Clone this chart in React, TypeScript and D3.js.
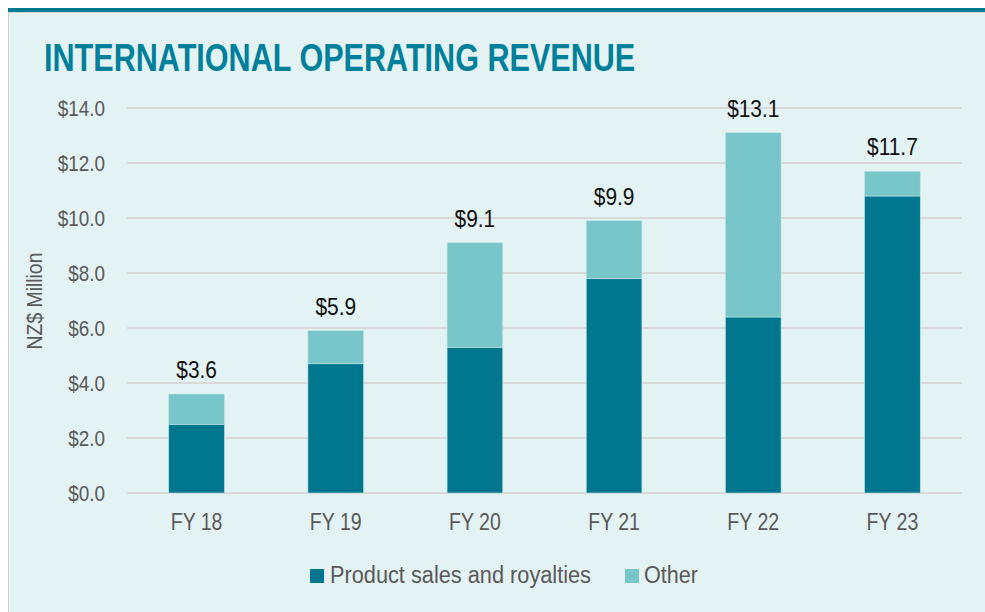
import React from "react";
import * as d3 from "d3";

const categories = ["FY 18", "FY 19", "FY 20", "FY 21", "FY 22", "FY 23"];
const productSales = [2.5, 4.7, 5.3, 7.8, 6.4, 10.8];
const other = [1.1, 1.2, 3.8, 2.1, 6.7, 0.9];
const totalLabels = ["$3.6", "$5.9", "$9.1", "$9.9", "$13.1", "$11.7"];
const yTicks = [0, 2, 4, 6, 8, 10, 12, 14];
const seriesNames = ["Product sales and royalties", "Other"];

const W = 985;
const H = 612;
const DARK = "#00778F";
const LIGHT = "#78C6C9";
const BG = "#E3F2F3";
const FONT = "'Liberation Sans', Arial, sans-serif";

function NText(props: {
  x: number;
  y: number;
  sx?: number;
  anchor?: string;
  size: number;
  fill: string;
  weight?: string;
  rotate?: number;
  children: React.ReactNode;
}) {
  const { x, y, sx = 0.85, anchor = "start", size, fill, weight, rotate = 0, children } = props;
  return (
    <text
      transform={`translate(${x},${y}) rotate(${rotate}) scale(${sx},1)`}
      textAnchor={anchor}
      fontSize={size}
      fill={fill}
      fontWeight={weight}
    >
      {children}
    </text>
  );
}

export default function App() {
  const x = d3.scaleBand<string>().domain(categories).range([127, 962]).paddingInner(0.6).paddingOuter(0.3);
  const y = d3.scaleLinear().domain([0, 14]).range([493, 108]);

  const rows = categories.map((c, i) => ({ cat: c, product: productSales[i], other: other[i] }));
  const stack = d3.stack<any>().keys(["product", "other"])(rows);
  const colors = [DARK, LIGHT];

  return (
    <svg width={W} height={H} style={{ position: "absolute", left: 0, top: 0 }} fontFamily={FONT}>
      <rect x={0} y={0} width={W} height={H} fill="#fff" />
      <rect x={8} y={9} width={W - 8} height={H - 9} fill={BG} />
      <line x1={8.5} y1={12} x2={8.5} y2={H} stroke="#CFCFCF" strokeWidth={1} />
      <rect x={8} y={8} width={W - 8} height={4} fill="#007A8F" />
      <line x1={8} y1={12.5} x2={W} y2={12.5} stroke="#D0D8D9" strokeWidth={1} />
      <NText x={44} y={71} sx={0.805} size={38} weight="bold" fill="#00809A">
        INTERNATIONAL OPERATING REVENUE
      </NText>
      {yTicks.map((t) => (
        <g key={t}>
          <line x1={127} x2={962} y1={y(t)} y2={y(t)} stroke="#D9D9D9" strokeWidth={2} />
          <NText x={105} y={y(t) + 8} anchor="end" size={22} sx={0.86} fill="#595959">
            {"$" + t.toFixed(1)}
          </NText>
        </g>
      ))}
      <NText x={42} y={301} rotate={-90} anchor="middle" size={22} sx={0.88} fill="#595959">
        NZ$ Million
      </NText>
      {stack.map((s, si) =>
        s.map((d, i) => (
          <rect
            key={si + "-" + i}
            x={x(categories[i])!}
            y={y(d[1])}
            width={x.bandwidth()}
            height={y(d[0]) - y(d[1])}
            fill={colors[si]}
            stroke="#BFE3E4"
            strokeWidth={0.6}
          />
        ))
      )}
      {categories.map((c, i) => (
        <NText
          key={c}
          x={x(c)! + x.bandwidth() / 2}
          y={y(productSales[i] + other[i]) - 16}
          anchor="middle"
          size={24}
          sx={0.87}
          fill="#111"
        >
          {totalLabels[i]}
        </NText>
      ))}
      {categories.map((c) => (
        <NText key={c} x={x(c)! + x.bandwidth() / 2} y={530} anchor="middle" size={23} sx={0.85} fill="#595959">
          {c}
        </NText>
      ))}
      <rect x={310} y={569} width={14} height={14} fill={DARK} />
      <text x={330} y={583} fontSize={23} fill="#595959" textLength={261} lengthAdjust="spacingAndGlyphs">
        {seriesNames[0]}
      </text>
      <rect x={625} y={569} width={14} height={14} fill={LIGHT} />
      <text x={644} y={583} fontSize={23} fill="#595959" textLength={54} lengthAdjust="spacingAndGlyphs">
        {seriesNames[1]}
      </text>
    </svg>
  );
}
